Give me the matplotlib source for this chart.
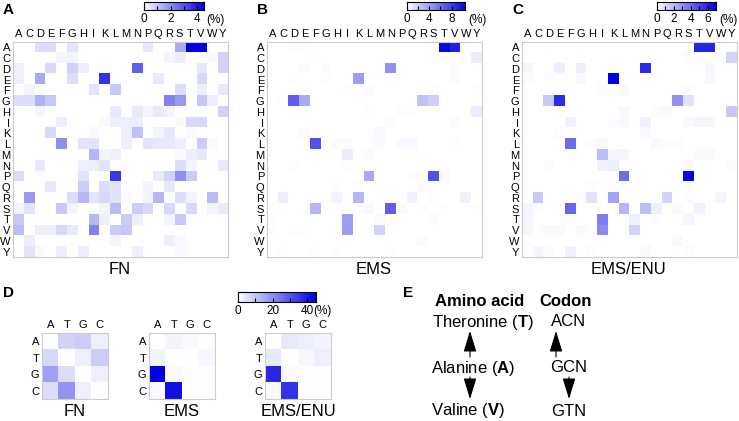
import matplotlib
matplotlib.use("Agg")
import matplotlib.pyplot as plt
import numpy as np
from matplotlib.colors import LinearSegmentedColormap

plt.rcParams['font.family'] = ['Liberation Sans', 'DejaVu Sans']
plt.rcParams['mathtext.fontset'] = 'custom'
plt.rcParams['mathtext.rm'] = 'Liberation Sans'
plt.rcParams['mathtext.bf'] = 'Liberation Sans:bold'

aa = list("ACDEFGHIKLMNPQRSTVWY")
nt = list("ATGC")

# amino acid substitution frequencies (%), rows = original, cols = new
fn_aa = [
    [0, 0, 0.6, 0.6, 0, 0.5, 0, 0, 0, 0, 0, 0, 0.4, 0, 0, 1.5, 4.5, 4.5, 0, 0],
    [0, 0, 0, 0, 0.2, 0.2, 0, 0, 0, 0, 0, 0, 0, 0, 0.2, 0.3, 0, 0, 0.1, 0.8],
    [0.3, 0, 0, 0.7, 0, 0.8, 0.3, 0, 0, 0, 0, 2.8, 0, 0, 0, 0, 0, 0.4, 0, 0.8],
    [0.3, 0, 1.5, 0, 0, 0.6, 0, 0, 3.6, 0, 0, 0, 0, 0.4, 0, 0, 0, 0.7, 0, 0],
    [0, 0.2, 0, 0, 0, 0, 0, 0.5, 0, 1.0, 0, 0, 0, 0, 0, 0.6, 0, 0.3, 0, 0.4],
    [0.6, 0.6, 1.4, 1.0, 0, 0, 0, 0, 0, 0, 0, 0, 0, 0, 2.2, 1.8, 0, 1.0, 0.3, 0],
    [0, 0, 0.2, 0, 0, 0, 0, 0, 0, 0.4, 0, 0.4, 0.2, 0.4, 0.2, 0, 0, 0, 0, 0.8],
    [0, 0, 0, 0, 0.3, 0, 0, 0, 0.1, 0.3, 0.3, 0.3, 0, 0, 0, 0.1, 0.7, 0.7, 0, 0],
    [0, 0, 0, 0.7, 0, 0, 0, 0.1, 0, 0, 0.3, 1.1, 0, 0.2, 0.4, 0, 0.1, 0, 0, 0],
    [0, 0, 0, 0, 2.0, 0, 0.5, 0.5, 0, 0, 0.3, 0, 0.5, 0.4, 0.4, 0.3, 0, 0.9, 0.1, 0],
    [0, 0, 0, 0, 0, 0, 0, 1.3, 0.2, 0.3, 0, 0, 0, 0, 0, 0.1, 0.3, 0.4, 0, 0],
    [0, 0, 0.4, 0, 0, 0, 0.3, 0.3, 0.5, 0, 0, 0, 0, 0, 0, 0.6, 0.2, 0, 0, 0.4],
    [0.6, 0, 0, 0, 0, 0, 0.5, 0, 0, 3.5, 0, 0, 0, 0.4, 0.8, 2.0, 0.9, 0, 0, 0],
    [0, 0, 0, 0.4, 0, 0, 0.9, 0, 0.6, 0.5, 0, 0, 0.2, 0, 0.4, 0, 0, 0, 0, 0],
    [0, 1.8, 0, 0, 0, 0.6, 1.3, 0.5, 0.7, 0.5, 0.1, 0, 0.2, 1.3, 0, 0.6, 0.2, 0, 1.2, 0],
    [0.2, 0.5, 0, 0, 1.0, 0.2, 0, 0, 0.2, 1.2, 0, 0.9, 0.7, 0, 0.7, 0, 0.7, 0, 0.2, 0.4],
    [1.0, 0, 0, 0, 0, 0, 0, 1.3, 0.3, 0, 0.9, 0.3, 0, 0, 0.2, 1.0, 0, 0, 0, 0],
    [1.2, 0, 0.3, 0.3, 0.7, 0.4, 0, 2.2, 0, 0.9, 1.0, 0, 0, 0, 0, 0, 0, 0, 0, 0],
    [0, 0.3, 0, 0, 0, 0, 0, 0, 0, 0.2, 0, 0, 0, 0, 0.3, 0.1, 0, 0, 0, 0],
    [0, 0.5, 0.1, 0, 0.3, 0, 0.3, 0, 0, 0, 0, 0.3, 0, 0, 0, 0.1, 0, 0, 0, 0],
]

ems_aa = [
    [0, 0, 0.1, 0.1, 0, 0, 0, 0, 0, 0, 0, 0, 0, 0, 0, 0.1, 10, 9, 0, 0],
    [0, 0, 0, 0, 0.05, 0, 0, 0, 0, 0, 0, 0, 0, 0, 0, 0, 0, 0, 0, 0.8],
    [0, 0, 0, 0.2, 0, 0.2, 0, 0, 0, 0, 0, 4.5, 0, 0, 0, 0, 0, 0.2, 0, 0.1],
    [0, 0, 0.1, 0, 0, 0.1, 0, 0, 4.0, 0, 0, 0, 0, 0, 0, 0, 0, 0.2, 0, 0],
    [0, 0, 0, 0, 0, 0, 0, 0.1, 0.1, 0.2, 0, 0, 0, 0, 0, 0.1, 0, 0, 0, 0.1],
    [0, 0.1, 6.5, 3.5, 0, 0, 0, 0, 0, 0, 0, 0, 0, 0, 2.5, 2.0, 0, 0, 0, 0],
    [0, 0, 0, 0, 0, 0, 0, 0, 0, 0.1, 0, 0, 0.1, 0.1, 0, 0, 0, 0, 0, 0.8],
    [0, 0, 0, 0, 0, 0, 0, 0, 0, 0, 0, 0.2, 0, 0, 0, 0, 0, 0.2, 0, 0],
    [0, 0, 0, 0.2, 0, 0, 0, 0, 0, 0, 0.3, 0, 0, 0, 0, 0, 0, 0, 0, 0],
    [0, 0, 0, 0, 7.0, 0, 0.2, 0.2, 0, 0, 0.2, 0, 0.3, 0.3, 0, 0, 0, 0.1, 0, 0],
    [0, 0, 0, 0, 0, 0, 0, 0.8, 0.1, 0.2, 0, 0, 0, 0, 0, 0, 0, 0, 0, 0],
    [0, 0, 0.1, 0, 0, 0, 0, 0.1, 0, 0, 0, 0, 0, 0, 0, 0, 0, 0, 0, 0],
    [0, 0, 0, 0, 0, 0, 0, 0, 0, 3.5, 0, 0, 0, 0.1, 0, 7.0, 0.2, 0, 0, 0],
    [0, 0, 0, 0, 0, 0, 0.1, 0, 0.1, 0, 0, 0, 0, 0, 0.2, 0, 0, 0, 0, 0],
    [0, 0.8, 0, 0, 0, 0.1, 0.5, 0, 3.0, 0, 0, 0, 0, 0.6, 0, 0.1, 0, 0, 0.6, 0],
    [0, 0.1, 0, 0, 3.0, 0, 0, 0, 0.1, 0.3, 0, 6.5, 0.2, 0, 0.1, 0, 0.1, 0, 0, 0.1],
    [0.1, 0, 0, 0, 0, 0, 0, 4.0, 0, 0, 0.2, 0, 0, 0, 0, 0.2, 0, 0, 0, 0],
    [0.1, 0, 0.1, 0.1, 0, 0, 0, 4.0, 0, 0, 1.8, 0, 0, 0, 0, 0, 0, 0, 0, 0],
    [0, 0, 0, 0, 0, 0, 0, 0, 0, 0, 0, 0, 0, 0, 0.2, 0, 0, 0, 0, 0],
    [0, 0.1, 0, 0, 0.1, 0, 0.1, 0, 0, 0, 0, 0.1, 0, 0, 0, 0, 0, 0, 0, 0],
]

enu_aa = [
    [0, 0, 0.05, 0, 0, 0.05, 0, 0, 0, 0, 0, 0, 0, 0, 0, 0, 6.0, 6.0, 0, 0],
    [0, 0, 0, 0, 0, 0.05, 0, 0, 0, 0, 0, 0, 0, 0, 0, 0.1, 0, 0, 0, 1.2],
    [0.3, 0, 0, 0.5, 0, 0.5, 0, 0, 0, 0, 0, 5.8, 0, 0, 0, 0, 0, 0.3, 0, 0],
    [0.1, 0, 0.1, 0, 0, 0.2, 0, 0, 7.0, 0, 0, 0, 0, 0, 0, 0, 0, 0.2, 0, 0],
    [0, 0, 0, 0, 0, 0, 0, 0.1, 0, 0.2, 0, 0, 0, 0, 0, 0.1, 0, 0, 0, 0],
    [0, 0, 1.5, 5.8, 0, 0, 0, 0, 0, 0, 0, 0, 0, 0, 3.0, 0.8, 0, 0, 0, 0],
    [0, 0, 0, 0, 0, 0, 0, 0, 0, 0.2, 0, 0, 0.1, 0.2, 0, 0, 0, 0, 0, 1.5],
    [0, 0, 0, 0, 0.4, 0, 0, 0, 0.1, 0.2, 0, 0.4, 0, 0, 0, 0.2, 0.3, 0.3, 0, 0],
    [0, 0, 0, 0.1, 0, 0, 0, 0, 0, 0, 0, 0.2, 0, 0, 0, 0, 0, 0, 0, 0],
    [0, 0, 0, 0, 4.0, 0, 0.1, 0.2, 0, 0, 0, 0, 0.2, 0.1, 0.1, 0, 0, 0, 0, 0],
    [0, 0, 0, 0, 0, 0, 0, 1.8, 0.3, 0.3, 0, 0, 0, 0, 0, 0, 0.2, 0.2, 0, 0],
    [0, 0, 0.1, 0, 0, 0, 0, 0.4, 0.5, 0, 0, 0, 0, 0, 0, 0.2, 0, 0, 0, 0.1],
    [0, 0, 0, 0, 0, 0, 0, 0, 0, 4.0, 0, 0, 0, 0, 0, 6.8, 0, 0, 0, 0],
    [0, 0, 0, 0, 0, 0, 0.1, 0, 0, 0, 0, 0, 0, 0, 0, 0, 0, 0, 0, 0],
    [0, 1.5, 0, 0, 0, 0.1, 0.8, 0, 2.5, 0, 0, 0, 0, 1.2, 0, 0.1, 0, 0, 0.3, 0],
    [0.3, 0.1, 0, 0, 4.2, 0, 0, 0, 0.1, 2.0, 0, 1.8, 0.5, 0, 0.2, 0, 0.4, 0, 0, 0],
    [0.3, 0, 0, 0, 0, 0, 0, 3.5, 0, 0, 0.4, 0, 0.1, 0, 0, 0.3, 0, 0, 0, 0],
    [0.3, 0, 0.2, 0.2, 0, 0.2, 0, 3.2, 0, 0, 1.2, 0, 0, 0, 0, 0, 0, 0, 0, 0],
    [0, 0, 0, 0, 0, 0, 0, 0, 0, 0, 0, 0, 0, 0, 0.2, 0, 0, 0, 0, 0],
    [0, 0.3, 0.1, 0, 0.4, 0, 0.1, 0, 0, 0, 0, 0.2, 0, 0, 0, 0.1, 0, 0, 0, 0],
]

# nucleotide substitution frequencies (%)
fn_nt = [[0, 8, 9, 3], [7, 0, 3, 9], [17, 6, 0, 3], [6, 19, 3, 0]]
ems_nt = [[0, 2, 1, 0.5], [2, 0, 0.3, 1.5], [45, 1, 0.3, 0.3], [1, 42, 0.2, 0.2]]
enu_nt = [[0, 4, 3, 2], [4, 0, 1.5, 3], [38, 1, 0.3, 0.3], [1, 36, 0.3, 0.3]]

W, H = 739, 421
cmap = LinearSegmentedColormap.from_list("wb", ["#ffffff", "#0000e0"])


def box(x0, y0, x1, y1):
    return [x0 / W, 1 - y1 / H, (x1 - x0) / W, (y1 - y0) / H]


fig = plt.figure(figsize=(W / 100, H / 100), dpi=100)


def heat(rect, data, labels, vmax, fs):
    ax = fig.add_axes(box(*rect))
    ax.imshow(np.array(data), cmap=cmap, vmin=0, vmax=vmax, aspect='auto',
              interpolation='nearest')
    ax.xaxis.tick_top()
    ax.set_xticks(range(len(labels)))
    ax.set_xticklabels(labels, fontsize=fs)
    ax.set_yticks(range(len(labels)))
    ax.set_yticklabels(labels, fontsize=fs)
    ax.tick_params(length=0, pad=2)
    for s in ax.spines.values():
        s.set_color('#cccccc')
        s.set_linewidth(0.8)
    return ax


def cbar(rect, vmax, major, minor, unit_x, unit_y):
    cax = fig.add_axes(box(*rect))
    grad = np.linspace(0, vmax, 256).reshape(1, -1)
    cax.imshow(grad, cmap=cmap, vmin=0, vmax=vmax, aspect='auto',
               extent=[0, vmax, 0, 1])
    cax.set_yticks([])
    cax.set_xticks(major)
    cax.set_xticks(minor, minor=True)
    cax.set_xticklabels([str(v) for v in major], fontsize=8.5)
    cax.tick_params(axis='x', which='both', direction='in', length=3, width=0.8, pad=2)
    for s in cax.spines.values():
        s.set_linewidth(0.8)
    fig.text(unit_x / W, 1 - unit_y / H, "(%)", fontsize=8.5, va='center', ha='left')


# panels A-C
heat((13, 42, 228, 257), fn_aa, aa, 4.5, 8)
heat((267, 42, 482, 257), ems_aa, aa, 10.4, 8)
heat((522, 42, 737, 257), enu_aa, aa, 7.0, 8)
cbar((144, 2, 204, 10), 4.5, [0, 2, 4], [1, 3], 206, 20)
cbar((407, 2, 465, 10), 10.4, [0, 4, 8], [2, 6], 468, 20)
cbar((657, 2, 716, 10), 7.0, [0, 2, 4, 6], [1, 3, 5], 719, 20)

for x, t in [(120, "FN"), (374, "EMS"), (629, "EMS/ENU")]:
    fig.text(x / W, 1 - 269 / H, t, fontsize=12, ha='center', va='center')

# panel D
heat((42, 333, 108, 399), fn_nt, nt, 45, 8)
heat((149, 333, 215, 399), ems_nt, nt, 45, 8)
heat((265, 333, 331, 399), enu_nt, nt, 45, 8)
cbar((238, 292, 316, 302), 45, [0, 20, 40], [10, 30], 313, 311)
for x, t in [(75, "FN"), (182, "EMS"), (298, "EMS/ENU")]:
    fig.text(x / W, 1 - 411 / H, t, fontsize=12, ha='center', va='center')

# panel letters
for x, y, t in [(3, 10, "A"), (257, 10, "B"), (512, 10, "C"), (3, 293, "D"), (403, 293, "E")]:
    fig.text(x / W, 1 - y / H, t, fontsize=11, fontweight='bold', va='center', ha='left')

# panel E: text + arrows on a pixel overlay
ov = fig.add_axes([0, 0, 1, 1])
ov.set_xlim(0, W)
ov.set_ylim(H, 0)
ov.axis('off')
ov.text(480, 301, "Amino acid", fontsize=12, fontweight='bold', ha='center', va='center')
ov.text(566, 301, "Codon", fontsize=12, fontweight='bold', ha='center', va='center')
ov.text(483, 322, r"Theronine ($\mathbf{T}$)", fontsize=12, ha='center', va='center')
ov.text(473, 368, r"Alanine ($\mathbf{A}$)", fontsize=12, ha='center', va='center')
ov.text(468, 411, r"Valine ($\mathbf{V}$)", fontsize=12, ha='center', va='center')
ov.text(569, 322, "ACN", fontsize=12, ha='center', va='center')
ov.text(569, 368, "GCN", fontsize=12, ha='center', va='center')
ov.text(569, 411, "GTN", fontsize=12, ha='center', va='center')

arrow = dict(arrowstyle='-|>,head_length=0.65,head_width=0.2', mutation_scale=20,
             lw=0.8, color='black', shrinkA=0, shrinkB=0)
ov.annotate('', xy=(470, 331), xytext=(470, 357), arrowprops=arrow)
ov.annotate('', xy=(556, 331), xytext=(556, 357), arrowprops=arrow)
ov.annotate('', xy=(470, 399), xytext=(470, 377), arrowprops=arrow)
ov.annotate('', xy=(569, 399), xytext=(569, 377), arrowprops=arrow)

fig.savefig("out.png", dpi=100)
